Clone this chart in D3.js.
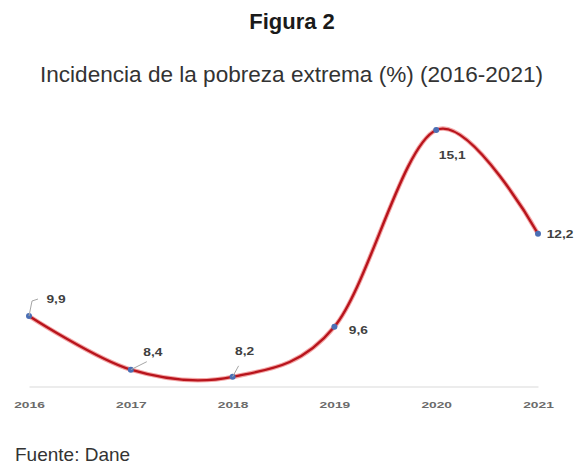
<!DOCTYPE html>
<html>
<head>
<meta charset="utf-8">
<script src="https://cdn.jsdelivr.net/npm/d3@7"></script>
<style>
  body { margin: 0; background: #fff; }
  text { font-family: Arial, 'Liberation Sans', sans-serif; }
</style>
</head>
<body>
<div class="chart"></div>
<script>
  const width = 586;
  const height = 466;

  const years = ['2016', '2017', '2018', '2019', '2020', '2021'];
  const values = [9.9, 8.4, 8.2, 9.6, 15.1, 12.2];
  const labels = ['9,9', '8,4', '8,2', '9,6', '15,1', '12,2'];

  const data = years.map((y, i) => ({ year: y, value: values[i], label: labels[i] }));

  const xScale = d3.scalePoint()
    .domain(years)
    .range([29, 538]);

  const yScale = d3.scaleLinear()
    .domain([7.93, 15.1])
    .range([386.5, 130]);

  const svg = d3.select('.chart').append('svg')
    .attr('width', width)
    .attr('height', height);

  svg.append('text')
    .attr('x', 292).attr('y', 29)
    .attr('text-anchor', 'middle')
    .attr('font-size', '22px')
    .attr('font-weight', 'bold')
    .attr('fill', '#1a1a1a')
    .text('Figura 2');

  svg.append('text')
    .attr('x', 40).attr('y', 82)
    .attr('font-size', '22px')
    .attr('fill', '#333')
    .attr('textLength', 503)
    .attr('lengthAdjust', 'spacingAndGlyphs')
    .text('Incidencia de la pobreza extrema (%) (2016-2021)');

  // baseline axis
  const xAxis = d3.axisBottom(xScale).tickSize(0).tickPadding(0);
  const ax = svg.append('g')
    .attr('transform', 'translate(0, 386.5)')
    .call(xAxis);
  ax.select('.domain').attr('stroke', '#d9d9d9').attr('stroke-width', 1.2);
  ax.selectAll('text')
    .attr('y', 22)
    .attr('dy', null)
    .attr('transform', 'scale(1.45,1)')
    .attr('font-size', '9.5px')
    .attr('font-weight', 'bold')
    .attr('fill', '#6b6b6b')
    .style('font-family', 'Arial, sans-serif');

  const line = d3.line()
    .x(d => xScale(d.year))
    .y(d => yScale(d.value))
    .curve(d3.curveCatmullRom.alpha(0));

  svg.append('path')
    .datum(data)
    .attr('fill', 'none')
    .attr('stroke', '#f3a6a6')
    .attr('stroke-width', 4.5)
    .attr('d', line);
  svg.append('path')
    .datum(data)
    .attr('fill', 'none')
    .attr('stroke', '#b8141c')
    .attr('stroke-width', 2.4)
    .attr('d', line);

  svg.selectAll('circle.pt')
    .data(data)
    .join('circle')
    .attr('class', 'pt')
    .attr('cx', d => xScale(d.year))
    .attr('cy', d => yScale(d.value))
    .attr('r', 3)
    .attr('fill', '#4a6fb5');

  // label offsets relative to each point
  const offsets = [
    { dx: 27, dy: -13, leader: [[0, 0], [3, -15], [9, -17]] },
    { dx: 22, dy: -14, leader: [[0, 0], [16, -8]] },
    { dx: 12, dy: -22, leader: [[0, 0], [6, -11]] },
    { dx: 24, dy: 7, leader: null },
    { dx: 16, dy: 29, leader: null },
    { dx: 22, dy: 4, leader: null },
  ];

  const lab = svg.append('g');
  data.forEach((d, i) => {
    const px = xScale(d.year), py = yScale(d.value);
    const o = offsets[i];
    if (o.leader) {
      lab.append('polyline')
        .attr('points', o.leader.map(p => [px + p[0], py + p[1]].join(',')).join(' '))
        .attr('fill', 'none')
        .attr('stroke', '#a6a6a6')
        .attr('stroke-width', 1);
    }
    lab.append('text')
      .attr('transform', `translate(${px + o.dx},${py + o.dy}) scale(1.25,1)`)
      .attr('text-anchor', 'middle')
      .attr('font-size', '11px')
      .attr('font-weight', 'bold')
      .attr('fill', '#404040')
      .text(d.label);
  });

  svg.append('text')
    .attr('x', 15).attr('y', 461)
    .attr('font-size', '19px')
    .attr('fill', '#333')
    .text('Fuente: Dane');
</script>
</body>
</html>
